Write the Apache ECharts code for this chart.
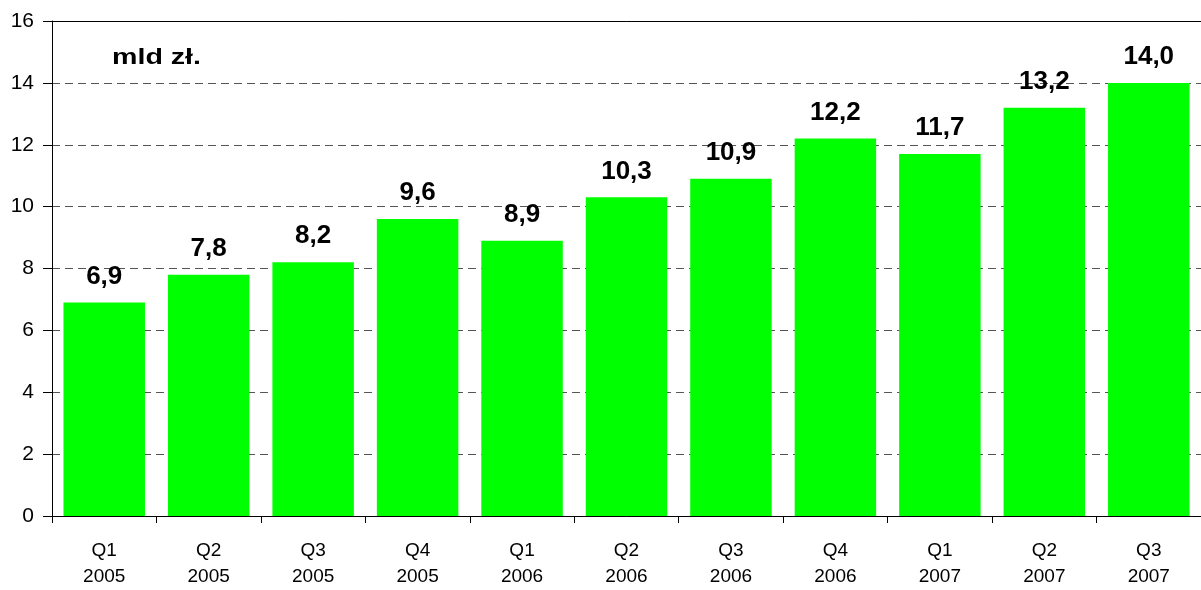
<!DOCTYPE html>
<html>
<head>
<meta charset="utf-8">
<script src="https://cdn.jsdelivr.net/npm/echarts@6/dist/echarts.min.js"></script>
<style>
  html, body { margin: 0; padding: 0; background: #fff; }
  #chart { width: 1201px; height: 590px; }
</style>
</head>
<body>
<div id="chart"></div>
<script>
const quarters = ['Q1', 'Q2', 'Q3', 'Q4', 'Q1', 'Q2', 'Q3', 'Q4', 'Q1', 'Q2', 'Q3']
const years = ['2005', '2005', '2005', '2005', '2006', '2006', '2006', '2006', '2007', '2007', '2007']
const values = [6.9, 7.8, 8.2, 9.6, 8.9, 10.3, 10.9, 12.2, 11.7, 13.2, 14.0]
const unitLabel = 'mld zł.'

const categories = quarters.map((q, i) => q + '\n' + years[i])
const font = '"Liberation Sans", Arial, sans-serif'

const chart = echarts.init(document.getElementById('chart'))

chart.setOption({
  animation: false,
  grid: {
    left: 52,
    right: 0,
    top: 21,
    bottom: 73
  },
  graphic: [
    {
      type: 'text',
      x: 112,
      y: 47,
      scaleX: 1.3,
      style: {
        text: unitLabel,
        font: 'bold 22px ' + font,
        fill: '#000'
      }
    }
  ],
  xAxis: [
    {
      type: 'category',
      data: categories,
      axisLine: { lineStyle: { color: '#000', width: 1 } },
      axisTick: { show: true, length: 7, lineStyle: { color: '#000' } },
      axisLabel: {
        color: '#000',
        fontFamily: font,
        fontSize: 19,
        lineHeight: 26,
        margin: 22
      }
    },
    {
      type: 'category',
      position: 'top',
      data: categories,
      axisLine: { show: true, lineStyle: { color: '#000', width: 1 } },
      axisTick: { show: false },
      axisLabel: { show: false }
    }
  ],
  yAxis: {
    type: 'value',
    min: 0,
    max: 16,
    interval: 2,
    axisLine: { show: true, lineStyle: { color: '#000' } },
    axisTick: { show: true, length: 9, lineStyle: { color: '#000' } },
    axisLabel: {
      color: '#000',
      fontFamily: font,
      fontSize: 21,
      margin: 18
    },
    splitLine: {
      show: true,
      lineStyle: { color: '#555', type: [8, 5], width: 1 }
    }
  },
  series: [
    {
      type: 'bar',
      data: values,
      barCategoryGap: '22%',
      itemStyle: { color: '#00ff00' },
      label: {
        show: true,
        position: 'top',
        distance: 13,
        color: '#000',
        fontFamily: font,
        fontWeight: 'bold',
        fontSize: 26,
        formatter: (p) => p.value.toFixed(1).replace('.', ',')
      }
    }
  ]
})
</script>
</body>
</html>
